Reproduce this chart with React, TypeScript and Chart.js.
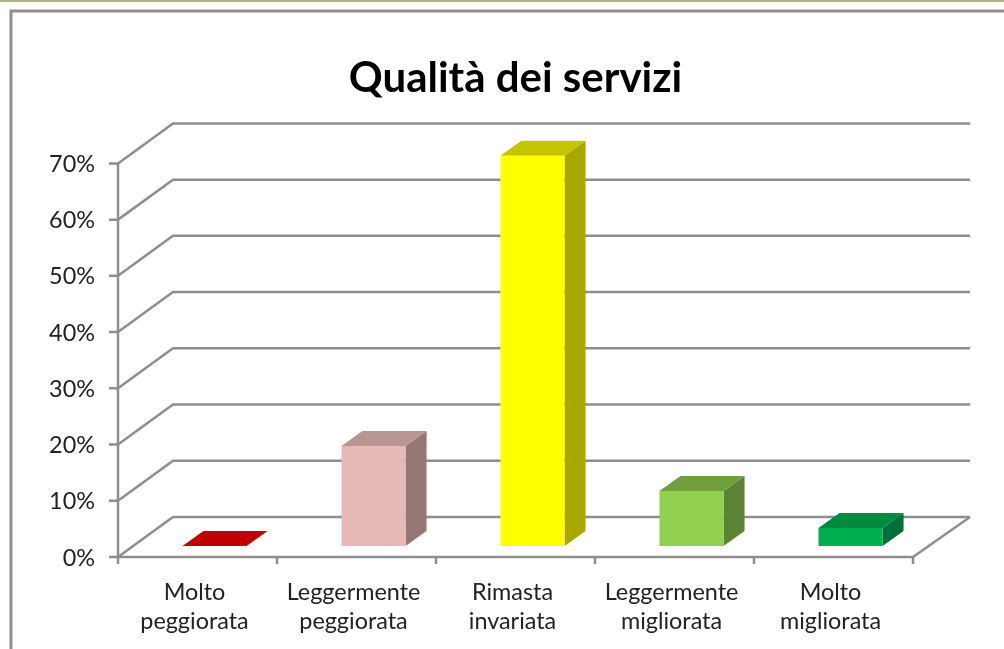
import React, { useEffect, useRef } from "react";
import { Chart, registerables } from "chart.js";

Chart.register(...registerables);

const categories = [
  ["Molto", "peggiorata"],
  ["Leggermente", "peggiorata"],
  ["Rimasta", "invariata"],
  ["Leggermente", "migliorata"],
  ["Molto", "migliorata"],
];
const values = [0, 17.8, 69.4, 9.8, 3.2];
const frontColors = ["#c00000", "#e6b9b8", "#ffff00", "#92d050", "#00b050"];
const topColors = ["#c00000", "#b89493", "#c4c400", "#719f3e", "#008a3e"];
const sideColors = ["#c00000", "#967675", "#a8a800", "#5d8434", "#00703a"];
const titleText = "Qualità dei servizi";

const LINE = "#8e8e8e";
const WALL_DX = 55;
const WALL_DY = -40;
const BAR_DX = 17;
const BAR_DY = -11;
const DEPTH_DX = 21;
const DEPTH_DY = -15;

const wallsAndBars = {
  id: "wallsAndBars",
  beforeDraw(chart: any) {
    const { ctx, width, height } = chart;
    ctx.save();
    ctx.fillStyle = "#fff";
    ctx.fillRect(0, 0, width, height);
    ctx.fillStyle = "#b5aa88";
    ctx.fillRect(0, 0, width, 2);
    ctx.strokeStyle = "#8f8f8f";
    ctx.lineWidth = 3;
    ctx.beginPath();
    ctx.moveTo(11, height + 5);
    ctx.lineTo(11, 11);
    ctx.lineTo(width + 5, 11);
    ctx.stroke();
    ctx.restore();
  },
  beforeDatasetsDraw(chart: any) {
    const { ctx, scales } = chart;
    const { x, y } = scales;
    const left = x.left;
    const right = x.right;
    ctx.save();
    ctx.strokeStyle = LINE;
    ctx.lineWidth = 2.5;
    y.ticks.forEach((t: any) => {
      const py = y.getPixelForValue(t.value);
      ctx.beginPath();
      ctx.moveTo(left - 9, py);
      ctx.lineTo(left, py);
      ctx.lineTo(left + WALL_DX, py + WALL_DY);
      ctx.lineTo(right + WALL_DX + 2, py + WALL_DY);
      ctx.stroke();
    });
    const base = y.getPixelForValue(0);
    ctx.beginPath();
    ctx.moveTo(left, y.top);
    ctx.lineTo(left, base);
    ctx.lineTo(right, base);
    ctx.lineTo(right + WALL_DX + 2, base + WALL_DY);
    ctx.stroke();
    const n = categories.length;
    for (let i = 0; i <= n; i++) {
      const px = left + ((right - left) * i) / n;
      ctx.beginPath();
      ctx.moveTo(px, base);
      ctx.lineTo(px, base + 7);
      ctx.stroke();
    }
    ctx.restore();
  },
  beforeDatasetDraw(chart: any) {
    const { ctx } = chart;
    ctx.save();
    const meta = chart.getDatasetMeta(0);
    meta.data.forEach((bar: any, i: number) => {
      const l = bar.x - bar.width / 2 + BAR_DX;
      const r = bar.x + bar.width / 2 + BAR_DX;
      const t = bar.y + BAR_DY;
      const b = bar.base + BAR_DY;
      ctx.fillStyle = sideColors[i];
      ctx.beginPath();
      ctx.moveTo(r, t);
      ctx.lineTo(r + DEPTH_DX, t + DEPTH_DY);
      ctx.lineTo(r + DEPTH_DX, b + DEPTH_DY);
      ctx.lineTo(r, b);
      ctx.closePath();
      ctx.fill();
      ctx.fillStyle = topColors[i];
      ctx.beginPath();
      ctx.moveTo(l, t);
      ctx.lineTo(l + DEPTH_DX, t + DEPTH_DY);
      ctx.lineTo(r + DEPTH_DX, t + DEPTH_DY);
      ctx.lineTo(r, t);
      ctx.closePath();
      ctx.fill();
    });
    ctx.translate(BAR_DX, BAR_DY);
  },
  afterDatasetDraw(chart: any) {
    chart.ctx.restore();
  },
};

export default function App() {
  const ref = useRef<HTMLCanvasElement>(null);
  useEffect(() => {
    const chart = new Chart(ref.current!, {
      type: "bar",
      data: {
        labels: categories as any,
        datasets: [
          {
            data: values,
            backgroundColor: frontColors,
            borderWidth: 0,
            barPercentage: 0.403,
            categoryPercentage: 1,
          },
        ],
      },
      plugins: [wallsAndBars],
      options: {
        animation: false,
        responsive: false,
        layout: { padding: { left: 0, right: 91, top: 0, bottom: 0 } },
        plugins: {
          legend: { display: false },
          tooltip: { enabled: false },
          title: {
            display: true,
            text: titleText,
            fullSize: false,
            color: "#000",
            font: { family: "Lato", size: 42, weight: "bold", lineHeight: 1.2 },
            padding: { top: 53, bottom: 60 },
          },
        },
        scales: {
          x: {
            grid: { display: false },
            border: { display: false },
            afterFit(s: any) {
              s.height = 92;
            },
            ticks: {
              color: "#222",
              maxRotation: 0,
              autoSkip: false,
              labelOffset: -3,
              font: { family: "Lato", size: 23.4, lineHeight: 1.28 },
              padding: 12,
            },
          },
          y: {
            min: 0,
            max: 70,
            grid: { display: false },
            border: { display: false },
            afterFit(s: any) {
              s.width = 118;
            },
            ticks: {
              stepSize: 10,
              color: "#222",
              labelOffset: 1,
              font: { family: "Lato", size: 23.4 },
              padding: 15,
              callback: (v: any) => `${v}%`,
            },
          },
        },
      },
    } as any);
    return () => chart.destroy();
  }, []);
  return (
    <canvas
      ref={ref}
      width={1004}
      height={649}
      style={{
        position: "fixed",
        left: 0,
        top: 0,
        display: "block",
        width: 1004,
        height: 649,
        filter: "blur(0.5px)",
      }}
    />
  );
}
